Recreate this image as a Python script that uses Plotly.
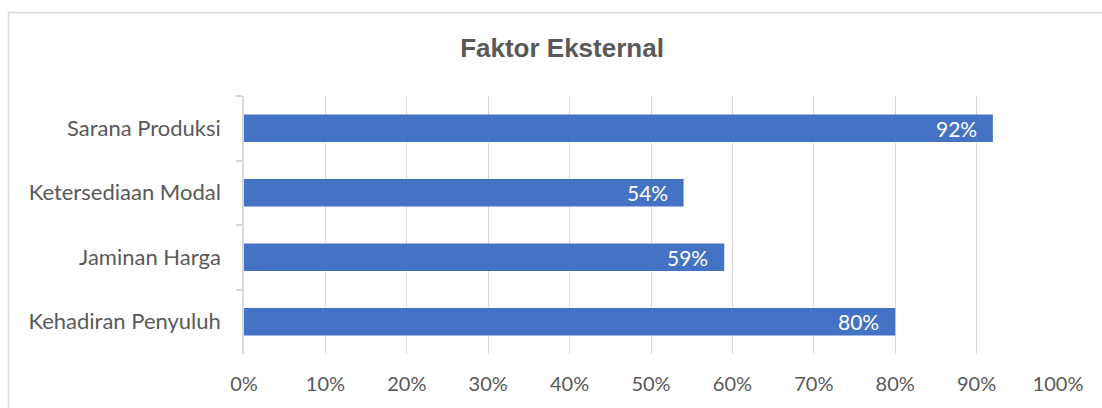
import plotly.graph_objects as go

categories = ["Sarana Produksi", "Ketersediaan Modal", "Jaminan Harga", "Kehadiran Penyuluh"]
values = [0.92, 0.54, 0.59, 0.80]
tick_vals = [0, 0.1, 0.2, 0.3, 0.4, 0.5, 0.6, 0.7, 0.8, 0.9, 1.0]
tick_text = ["0%", "10%", "20%", "30%", "40%", "50%", "60%", "70%", "80%", "90%", "100%"]
title_text = "Faktor Eksternal"

W, H = 1102, 408
L, R, T, B = 244, 44, 96, 54
pw, ph = W - L - R, H - T - B

fig = go.Figure()
fig.add_trace(go.Bar(
    x=values, y=categories, orientation="h",
    marker=dict(color="#4472C4", line=dict(width=0)),
    width=0.43, hoverinfo="skip",
))

for c, v in zip(categories, values):
    fig.add_annotation(x=v, y=c, xref="x", yref="y", text=f"{round(v*100)}%",
                       showarrow=False, xanchor="right", yanchor="middle", xshift=-14,
                       font=dict(family="Lato, Carlito, sans-serif", size=21, color="white"))

gray = "#d9d9d9"
x_left = (8.5 - L) / pw
x_right = (W - L) / pw
y_top = 1 + (T - 12.5) / ph
y_bot = -(H - (H - B)) / ph
fig.add_shape(type="line", xref="paper", yref="paper", x0=x_left, x1=x_left, y0=y_bot - 0.05, y1=y_top,
              line=dict(color=gray, width=1.5))
fig.add_shape(type="line", xref="paper", yref="paper", x0=x_left, x1=x_right + 0.05, y0=y_top, y1=y_top,
              line=dict(color=gray, width=1.5))

fig.update_layout(
    width=W, height=H,
    margin=dict(l=L, r=R, t=T, b=B),
    paper_bgcolor="white", plot_bgcolor="white",
    showlegend=False,
    title=dict(text=f"<b>{title_text}</b>", x=(562 - L) / pw, xref="paper", xanchor="center",
               y=1 - 48 / H, yanchor="middle",
               font=dict(family="Liberation Sans, Arial, sans-serif", size=26, color="#595959")),
    xaxis=dict(range=[0, 1], tickvals=tick_vals, ticktext=tick_text, showgrid=True,
               gridcolor=gray, gridwidth=1, zeroline=False, showline=False, ticks="",
               ticklabelstandoff=16,
               tickfont=dict(family="Lato, Carlito, sans-serif", size=20, color="#595959")),
    yaxis=dict(autorange="reversed", showline=True, linecolor=gray, linewidth=1.5,
               ticks="outside", tickson="boundaries", ticklen=6, tickcolor=gray, tickwidth=1.5,
               showgrid=False, ticklabelstandoff=17,
               tickfont=dict(family="Lato, Carlito, sans-serif", size=22, color="#595959")),
)

fig.write_html("out.html")
